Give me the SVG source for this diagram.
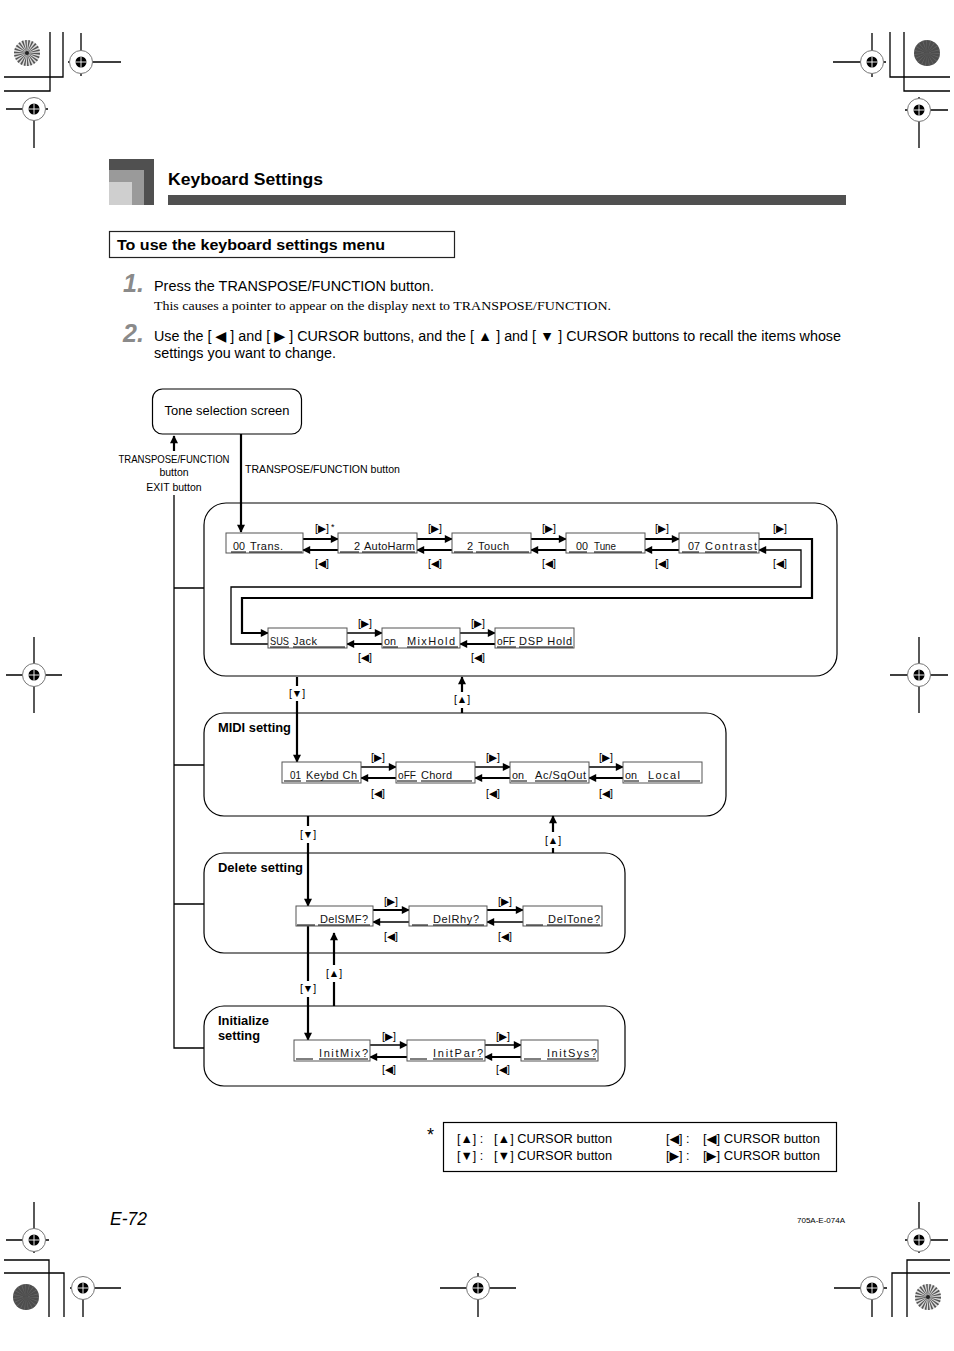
<svg xmlns="http://www.w3.org/2000/svg" width="954" height="1351" viewBox="0 0 954 1351">
<style>
.t{font-family:"Liberation Sans",Arial,"DejaVu Sans",sans-serif;fill:#000}
.b{font-weight:bold}
.lcd{font-family:"Liberation Sans",Arial,sans-serif;font-size:11px;fill:#111}
.lb{font-family:"Liberation Sans","DejaVu Sans",sans-serif;font-size:10.5px;text-anchor:middle}
.frame{fill:#fff;stroke:#000;stroke-width:1.2}
.lbox{fill:#fff;stroke:#555;stroke-width:1}
.ul{stroke:#000;stroke-width:1;fill:none}
.w2{stroke:#000;stroke-width:2.2;fill:none}
.w1{stroke:#000;stroke-width:1.3;fill:none}
.ar{marker-end:url(#ah)}
.cm{stroke:#000;stroke-width:1.3;fill:none}
</style>
<defs>
<marker id="ah" viewBox="0 0 10 10" refX="9" refY="5" markerWidth="9" markerHeight="8" markerUnits="userSpaceOnUse" orient="auto"><path d="M0,0 L10,5 L0,10 z" fill="#000"/></marker>
<g id="reg"><circle r="11.5" fill="#fff" stroke="#777" stroke-width="1"/><circle r="5.5" fill="#000"/><path d="M-5.5,0H5.5M0,-5.5V5.5" stroke="#fff" stroke-width="0.9"/></g>
<g id="discL"><circle r="13" fill="#ddd"/><circle r="6.5" fill="none" stroke="#555" stroke-width="13" stroke-dasharray="0.9 0.9"/><circle r="2" fill="#222"/></g>
<g id="discD"><circle r="13" fill="#4d4d4d"/><circle r="6.5" fill="none" stroke="#777" stroke-width="13" stroke-dasharray="0.5 1.6" opacity="0.6"/></g>
</defs>
<rect width="954" height="1351" fill="#fff"/>

<g id="cropmarks">
<path class="cm" d="M50,32V91H4M63,32V77H4M890,32V77H950M904,32V91H950M49,1317V1260H4M64,1317V1273H4M907,1317V1260H950M892,1317V1273H950"/>
<path class="cm" d="M68,62H121M81,33V76M6,109H48M34,98V148M833,62H886M872,33V77M905,110H948M919,97V148M6,675H62M34,637V713M890,675H948M919,637V713M6,1240H49M34,1202V1253M70,1288H121M83,1278V1317M440,1288H516M478,1273V1317M905,1240H948M919,1202V1253M834,1288H887M872,1278V1317"/>
<use href="#reg" x="81" y="62"/><use href="#reg" x="34" y="109"/><use href="#reg" x="872" y="62"/><use href="#reg" x="919" y="110"/>
<use href="#reg" x="34" y="675"/><use href="#reg" x="919" y="675"/>
<use href="#reg" x="34" y="1240"/><use href="#reg" x="83" y="1288"/><use href="#reg" x="478" y="1288"/><use href="#reg" x="919" y="1240"/><use href="#reg" x="872" y="1288"/>
<use href="#discL" x="27" y="53"/><use href="#discD" x="927" y="53"/><use href="#discD" x="26" y="1297"/><use href="#discL" x="928" y="1297"/>
</g>

<g id="header">
<rect x="109" y="159" width="45" height="46" fill="#505050"/>
<rect x="109" y="170" width="35" height="35" fill="#9a9a9a"/>
<rect x="109" y="182" width="23" height="23" fill="#cfcfcf"/>
<text class="t b" x="168" y="185" font-size="17" textLength="155" lengthAdjust="spacingAndGlyphs">Keyboard Settings</text>
<rect x="168" y="195" width="678" height="10" fill="#505050"/>
<rect x="109.5" y="231.5" width="345" height="26" fill="none" stroke="#222" stroke-width="1.2"/>
<text class="t b" x="117" y="250" font-size="15" textLength="268" lengthAdjust="spacingAndGlyphs">To use the keyboard settings menu</text>
</g>

<g id="steps">
<text class="t b" x="123" y="292" font-size="25" font-style="italic" style="fill:#8a8a8a">1.</text>
<text class="t" x="154" y="291" font-size="14" textLength="280" lengthAdjust="spacingAndGlyphs">Press the TRANSPOSE/FUNCTION button.</text>
<text x="154" y="310" font-family="Liberation Serif,serif" font-size="13" textLength="457" lengthAdjust="spacingAndGlyphs">This causes a pointer to appear on the display next to TRANSPOSE/FUNCTION.</text>
<text class="t b" x="123" y="342" font-size="25" font-style="italic" style="fill:#8a8a8a">2.</text>
<text class="t" x="154" y="341" font-size="14" textLength="687" lengthAdjust="spacingAndGlyphs">Use the [ ◀ ] and [ ▶ ] CURSOR buttons, and the [ ▲ ] and [ ▼ ] CURSOR buttons to recall the items whose</text>
<text class="t" x="154" y="358" font-size="14" textLength="182" lengthAdjust="spacingAndGlyphs">settings you want to change.</text>
</g>

<g id="frames">
<rect id="box-general" class="frame" x="204" y="503" width="633" height="173" rx="22"/>
<rect id="box-midi" class="frame" x="204" y="713" width="522" height="103" rx="20"/>
<rect id="box-delete" class="frame" x="204" y="853" width="421" height="100" rx="20"/>
<rect id="box-init" class="frame" x="204" y="1006" width="421" height="80" rx="20"/>
<text class="t b" x="218" y="732" font-size="13" textLength="73" lengthAdjust="spacingAndGlyphs">MIDI setting</text>
<text class="t b" x="218" y="872" font-size="13" textLength="85" lengthAdjust="spacingAndGlyphs">Delete setting</text>
<text class="t b" x="218" y="1025" font-size="13" textLength="51" lengthAdjust="spacingAndGlyphs">Initialize</text>
<text class="t b" x="218" y="1040" font-size="13" textLength="42" lengthAdjust="spacingAndGlyphs">setting</text>
</g>

<g id="tone">
<rect class="frame" x="152.5" y="389" width="149" height="45" rx="10"/>
<text class="t" x="227" y="415" font-size="12" text-anchor="middle" textLength="125" lengthAdjust="spacingAndGlyphs">Tone selection screen</text>
</g>

<g id="connectors">
<path class="w2 ar" d="M241,434V532"/>
<path class="w2 ar" d="M174,451V436"/>
<path class="w1" d="M174,495V1048H204M174,588H204M174,765H204M174,904H204"/>
<path class="w2 ar" d="M303,539H338"/><path class="w2 ar" d="M338,550H303"/>
<path class="w2 ar" d="M417,539H452"/><path class="w2 ar" d="M452,550H417"/>
<path class="w2 ar" d="M531,539H566"/><path class="w2 ar" d="M566,550H531"/>
<path class="w2 ar" d="M645,539H679"/><path class="w2 ar" d="M679,550H645"/>
<path class="w2 ar" d="M759,539H812V598H242V633H268"/>
<path class="w1 ar" d="M268,644H231V587H801V550H759"/>
<path class="w1 ar" d="M347,633H382"/><path class="w2 ar" d="M382,644H347"/>
<path class="w1 ar" d="M460,633H495"/><path class="w2 ar" d="M495,644H460"/>
<path class="w1 ar" d="M361,767H396"/><path class="w2 ar" d="M396,778H361"/>
<path class="w1 ar" d="M475,767H510"/><path class="w2 ar" d="M510,778H475"/>
<path class="w1 ar" d="M589,767H623"/><path class="w2 ar" d="M623,778H589"/>
<path class="w2 ar" d="M373,910H409"/><path class="w1 ar" d="M409,922H373"/>
<path class="w2 ar" d="M487,910H523"/><path class="w1 ar" d="M523,922H487"/>
<path class="w1 ar" d="M370,1045H407"/><path class="w2 ar" d="M407,1057H370"/>
<path class="w1 ar" d="M485,1045H521"/><path class="w2 ar" d="M521,1057H485"/>
<path class="w2" d="M297,677V686"/><path class="w2 ar" d="M297,701V762"/>
<path class="w2" d="M462,713V708"/><path class="w2 ar" d="M462,692V677"/>
<path class="w2" d="M308,816V826"/><path class="w2 ar" d="M308,843V906"/>
<path class="w2" d="M553,853V848"/><path class="w2 ar" d="M553,832V816"/>
<path class="w2" d="M308,926V981"/><path class="w2 ar" d="M308,997V1040"/>
<path class="w2" d="M334,1006V982"/><path class="w2 ar" d="M334,965V933"/>
</g>

<g id="labels">
<text class="t" x="174" y="463" font-size="10.5" text-anchor="middle" textLength="111" lengthAdjust="spacingAndGlyphs">TRANSPOSE/FUNCTION</text>
<text class="t" x="174" y="476" font-size="10.5" text-anchor="middle">button</text>
<text class="t" x="174" y="491" font-size="10.5" text-anchor="middle">EXIT button</text>
<text class="t" x="245" y="473" font-size="10.5" textLength="155" lengthAdjust="spacingAndGlyphs">TRANSPOSE/FUNCTION button</text>
<text class="lb" x="322" y="532">[▶]</text><text class="t" x="331" y="530" font-size="9">*</text>
<text class="lb" x="322" y="567">[◀]</text>
<text class="lb" x="435" y="532">[▶]</text><text class="lb" x="435" y="567">[◀]</text>
<text class="lb" x="549" y="532">[▶]</text><text class="lb" x="549" y="567">[◀]</text>
<text class="lb" x="662" y="532">[▶]</text><text class="lb" x="662" y="567">[◀]</text>
<text class="lb" x="780" y="532">[▶]</text><text class="lb" x="780" y="567">[◀]</text>
<text class="lb" x="365" y="627">[▶]</text><text class="lb" x="365" y="661">[◀]</text>
<text class="lb" x="478" y="627">[▶]</text><text class="lb" x="478" y="661">[◀]</text>
<text class="lb" x="378" y="761">[▶]</text><text class="lb" x="378" y="797">[◀]</text>
<text class="lb" x="493" y="761">[▶]</text><text class="lb" x="493" y="797">[◀]</text>
<text class="lb" x="606" y="761">[▶]</text><text class="lb" x="606" y="797">[◀]</text>
<text class="lb" x="391" y="905">[▶]</text><text class="lb" x="391" y="940">[◀]</text>
<text class="lb" x="505" y="905">[▶]</text><text class="lb" x="505" y="940">[◀]</text>
<text class="lb" x="389" y="1040">[▶]</text><text class="lb" x="389" y="1073">[◀]</text>
<text class="lb" x="503" y="1040">[▶]</text><text class="lb" x="503" y="1073">[◀]</text>
<text class="lb" x="297" y="697">[▼]</text>
<text class="lb" x="462" y="703">[▲]</text>
<text class="lb" x="308" y="838">[▼]</text>
<text class="lb" x="553" y="844">[▲]</text>
<text class="lb" x="334" y="977">[▲]</text>
<text class="lb" x="308" y="992">[▼]</text>
</g>

<g id="lcd-trans"><rect class="lbox" x="226" y="533" width="77" height="20"/><text class="lcd" x="233" y="550" textLength="12" lengthAdjust="spacingAndGlyphs">00</text><text class="lcd" x="250" y="550" textLength="33" lengthAdjust="spacing">Trans.</text><path class="ul" d="M231,552H246M249,552H302"/></g>
<g id="lcd-autoharm"><rect class="lbox" x="338" y="533" width="79" height="20"/><text class="lcd" x="354" y="550">2</text><text class="lcd" x="364" y="550" textLength="51" lengthAdjust="spacing">AutoHarm</text><path class="ul" d="M340,552H359M362,552H415"/></g>
<g id="lcd-touch"><rect class="lbox" x="452" y="533" width="79" height="20"/><text class="lcd" x="467" y="550">2</text><text class="lcd" x="478" y="550" textLength="31" lengthAdjust="spacing">Touch</text><path class="ul" d="M454,552H473M476,552H529"/></g>
<g id="lcd-tune"><rect class="lbox" x="566" y="533" width="79" height="20"/><text class="lcd" x="576" y="550" textLength="12" lengthAdjust="spacingAndGlyphs">00</text><text class="lcd" x="594" y="550" textLength="22" lengthAdjust="spacingAndGlyphs">Tune</text><path class="ul" d="M569,552H587M594,552H642"/></g>
<g id="lcd-contrast"><rect class="lbox" x="679" y="533" width="80" height="20"/><text class="lcd" x="688" y="550" textLength="12" lengthAdjust="spacingAndGlyphs">07</text><text class="lcd" x="705" y="550" textLength="52" lengthAdjust="spacing">Contrast</text><path class="ul" d="M682,552H699M705,552H757"/></g>
<g id="lcd-susjack"><rect class="lbox" x="268" y="628" width="79" height="20"/><text class="lcd" x="270" y="645" textLength="19" lengthAdjust="spacingAndGlyphs">SUS</text><text class="lcd" x="293" y="645" textLength="24" lengthAdjust="spacing">Jack</text><path class="ul" d="M270,647H289M293,647H345"/></g>
<g id="lcd-mixhold"><rect class="lbox" x="382" y="628" width="78" height="20"/><text class="lcd" x="384" y="645" textLength="12" lengthAdjust="spacingAndGlyphs">on</text><text class="lcd" x="407" y="645" textLength="48" lengthAdjust="spacing">MixHold</text><path class="ul" d="M383,647H398M407,647H458"/></g>
<g id="lcd-dsphold"><rect class="lbox" x="495" y="628" width="79" height="20"/><text class="lcd" x="497" y="645" textLength="18" lengthAdjust="spacingAndGlyphs">oFF</text><text class="lcd" x="519" y="645" textLength="53" lengthAdjust="spacing">DSP Hold</text><path class="ul" d="M497,647H516M519,647H573"/></g>
<g id="lcd-keybdch"><rect class="lbox" x="282" y="762" width="79" height="21"/><text class="lcd" x="290" y="779" textLength="11" lengthAdjust="spacingAndGlyphs">01</text><text class="lcd" x="306" y="779" textLength="51" lengthAdjust="spacing">Keybd Ch</text><path class="ul" d="M284,781H301M306,781H359"/></g>
<g id="lcd-chord"><rect class="lbox" x="396" y="762" width="79" height="21"/><text class="lcd" x="398" y="779" textLength="18" lengthAdjust="spacingAndGlyphs">oFF</text><text class="lcd" x="421" y="779" textLength="31" lengthAdjust="spacing">Chord</text><path class="ul" d="M397,781H417M421,781H472"/></g>
<g id="lcd-acsqout"><rect class="lbox" x="510" y="762" width="79" height="21"/><text class="lcd" x="512" y="779" textLength="12" lengthAdjust="spacingAndGlyphs">on</text><text class="lcd" x="535" y="779" textLength="51" lengthAdjust="spacing">Ac/SqOut</text><path class="ul" d="M511,781H527M535,781H587"/></g>
<g id="lcd-local"><rect class="lbox" x="623" y="762" width="79" height="21"/><text class="lcd" x="625" y="779" textLength="12" lengthAdjust="spacingAndGlyphs">on</text><text class="lcd" x="648" y="779" textLength="32" lengthAdjust="spacing">Local</text><path class="ul" d="M624,781H639M648,781H700"/></g>
<g id="lcd-delsmf"><rect class="lbox" x="296" y="906" width="77" height="20"/><text class="lcd" x="320" y="923" textLength="48" lengthAdjust="spacing">DelSMF?</text><path class="ul" d="M297,925H315M318,925H370"/></g>
<g id="lcd-delrhy"><rect class="lbox" x="409" y="906" width="78" height="20"/><text class="lcd" x="433" y="923" textLength="46" lengthAdjust="spacing">DelRhy?</text><path class="ul" d="M412,925H428M433,925H484"/></g>
<g id="lcd-deltone"><rect class="lbox" x="523" y="906" width="79" height="20"/><text class="lcd" x="548" y="923" textLength="52" lengthAdjust="spacing">DelTone?</text><path class="ul" d="M526,925H543M547,925H600"/></g>
<g id="lcd-initmix"><rect class="lbox" x="294" y="1040" width="76" height="21"/><text class="lcd" x="319" y="1057" textLength="49" lengthAdjust="spacing">InitMix?</text><path class="ul" d="M296,1059H313M319,1059H368"/></g>
<g id="lcd-initpar"><rect class="lbox" x="407" y="1040" width="78" height="21"/><text class="lcd" x="433" y="1057" textLength="50" lengthAdjust="spacing">InitPar?</text><path class="ul" d="M410,1059H427M433,1059H483"/></g>
<g id="lcd-initsys"><rect class="lbox" x="521" y="1040" width="77" height="21"/><text class="lcd" x="547" y="1057" textLength="50" lengthAdjust="spacing">InitSys?</text><path class="ul" d="M524,1059H541M547,1059H596"/></g>

<g id="legend">
<text class="t" x="427" y="1141" font-size="18">*</text>
<rect x="443.5" y="1122.5" width="393" height="49" fill="none" stroke="#000" stroke-width="1.2"/>
<text class="t" x="457" y="1143" font-size="12.5">[▲] :</text>
<text class="t" x="494" y="1143" font-size="12.5" textLength="118" lengthAdjust="spacingAndGlyphs">[▲] CURSOR button</text>
<text class="t" x="666" y="1143" font-size="12.5">[◀] :</text>
<text class="t" x="703" y="1143" font-size="12.5" textLength="117" lengthAdjust="spacingAndGlyphs">[◀] CURSOR button</text>
<text class="t" x="457" y="1160" font-size="12.5">[▼] :</text>
<text class="t" x="494" y="1160" font-size="12.5" textLength="118" lengthAdjust="spacingAndGlyphs">[▼] CURSOR button</text>
<text class="t" x="666" y="1160" font-size="12.5">[▶] :</text>
<text class="t" x="703" y="1160" font-size="12.5" textLength="117" lengthAdjust="spacingAndGlyphs">[▶] CURSOR button</text>
</g>

<g id="footer">
<text class="t" x="110" y="1225" font-size="18" font-style="italic" textLength="37" lengthAdjust="spacingAndGlyphs">E-72</text>
<text class="t" x="797" y="1223" font-size="8" textLength="48" lengthAdjust="spacingAndGlyphs">705A-E-074A</text>
</g>
</svg>
